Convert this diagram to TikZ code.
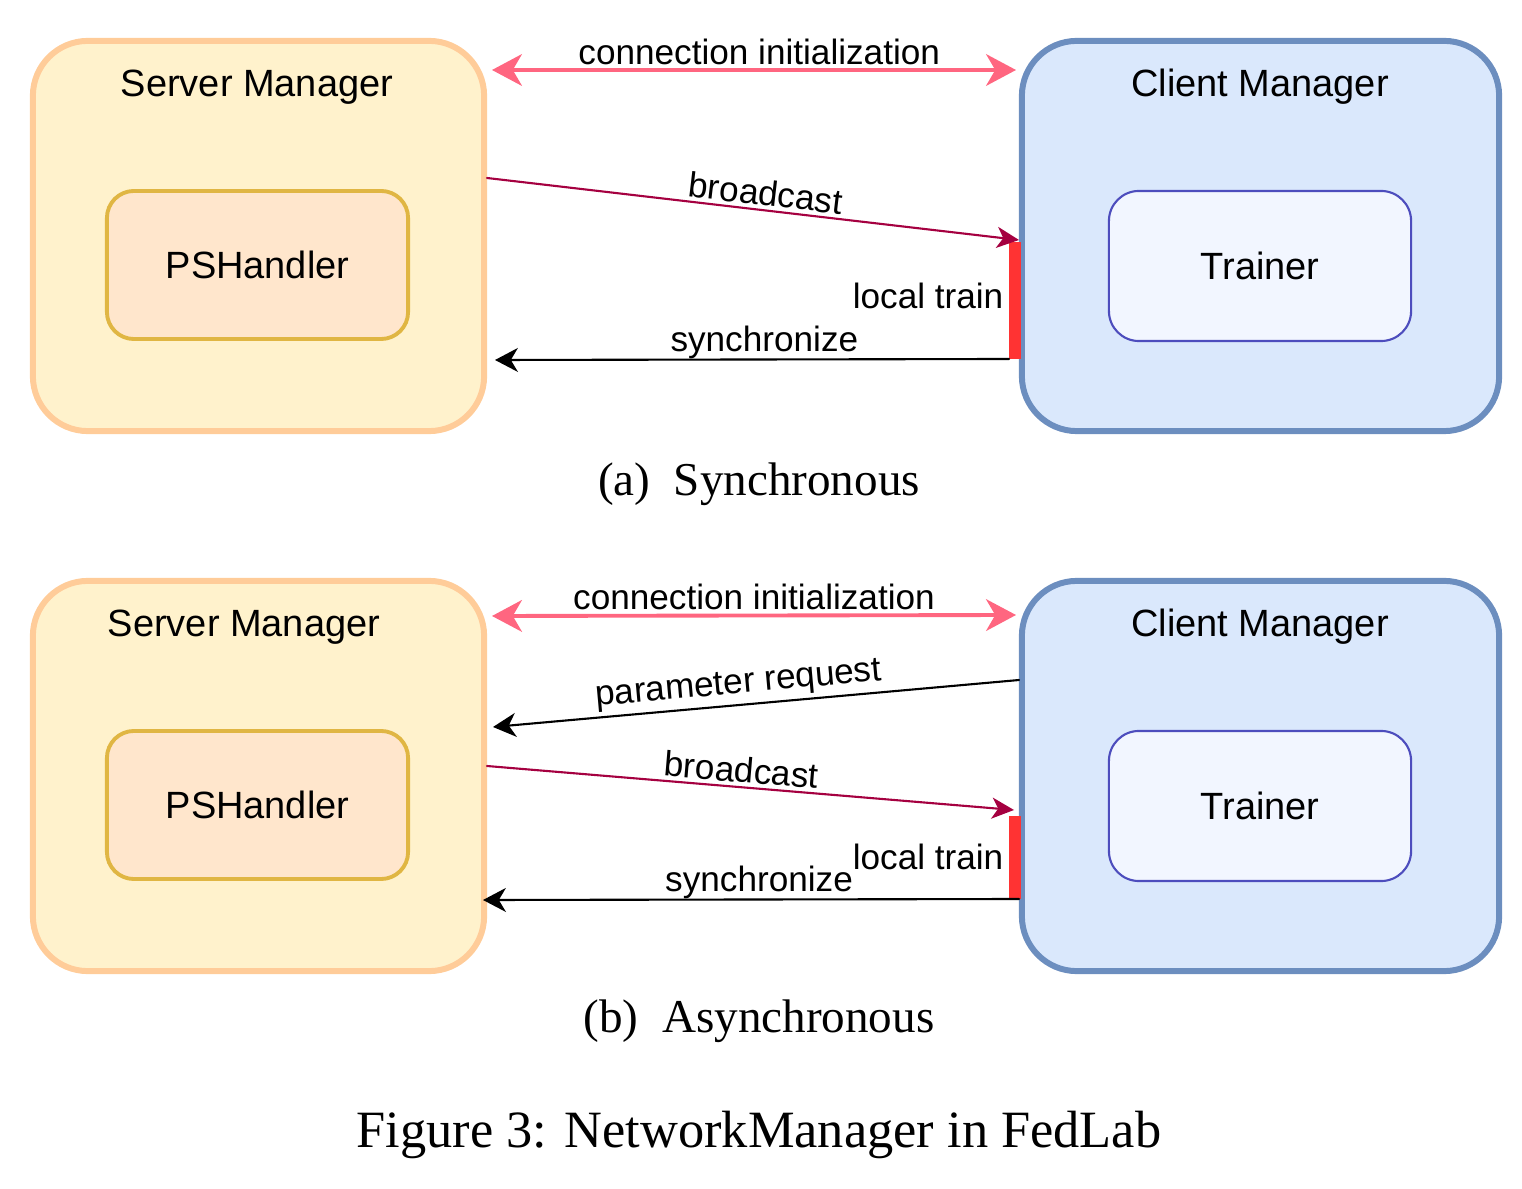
\documentclass[tikz,border=0pt]{standalone}
\usepackage{fontspec}
\setmainfont{Liberation Sans}
\newfontfamily\capfont{Liberation Serif}
\usetikzlibrary{arrows.meta}

\definecolor{srvline}{HTML}{FFCC99}
\definecolor{srvfill}{HTML}{FFF2CC}
\definecolor{pshline}{HTML}{E0B643}
\definecolor{pshfill}{HTML}{FFE6CC}
\definecolor{cltline}{HTML}{6C8EBF}
\definecolor{cltfill}{HTML}{DAE8FC}
\definecolor{trnline}{HTML}{4D4DBD}
\definecolor{trnfill}{HTML}{F2F6FF}
\definecolor{initpink}{HTML}{FF6680}
\definecolor{bcred}{HTML}{A50040}
\definecolor{trainred}{HTML}{FF3333}

\tikzset{
	srvbox/.style={draw=srvline,fill=srvfill,line width=1.7pt,rounded corners=0.55cm,
		minimum width=4.51cm,minimum height=3.9cm},
	cltbox/.style={draw=cltline,fill=cltfill,line width=1.7pt,rounded corners=0.55cm,
		minimum width=4.77cm,minimum height=3.9cm},
	pshbox/.style={draw=pshline,fill=pshfill,line width=1.1pt,rounded corners=0.27cm,
		minimum width=3.01cm,minimum height=1.48cm},
	trnbox/.style={draw=trnline,fill=trnfill,line width=0.6pt,rounded corners=0.3cm,
		minimum width=3.02cm,minimum height=1.5cm},
	trainbar/.style={fill=trainred,inner sep=0pt,minimum width=0.12cm},
	initline/.style={draw=initpink,line width=1.1pt,
		arrows={Stealth[length=8.5pt,width=9pt,inset=2.6pt]-Stealth[length=8.5pt,width=9pt,inset=2.6pt]}},
	bcline/.style={draw=bcred,line width=0.6pt,-{Stealth[length=6.3pt,width=6pt,inset=1.8pt]}},
	syline/.style={draw=black,line width=0.6pt,-{Stealth[length=6.5pt,width=6.8pt,inset=2pt]}},
	lbl/.style={inner sep=1pt,font=\fontsize{10}{12}\selectfont},
	subcap/.style={font=\capfont\fontsize{13.4}{16}\selectfont},
}

\begin{document}
\begin{tikzpicture}[x=0.01cm,y=-0.01cm,line cap=round,line join=round,font=\fontsize{10.8}{13}\selectfont]
	\useasboundingbox (0,0) rectangle (1522,1189);
	% (a) synchronous
	\node[srvbox] (srvA) at (258.5,236) {};
	\node[cltbox] (cltA) at (1260.5,236) {};
	\node (srvAt) at (257,87) {Server Manager};
	\node (cltAt) at (1260,87) {Client Manager};
	\node[pshbox] (pshA) at (257.5,265) {PSHandler};
	\node[trnbox] (trnA) at (1260,266) {Trainer};
	\node[trainbar,minimum height=1.17cm] (barA) at (1015,300.5) {};
	\coordinate (ciA1) at (492,70);
	\coordinate (ciA2) at (1016,70);
	\coordinate (bcA1) at (487,178);
	\coordinate (bcA2) at (1019,240);
	\coordinate (syA1) at (1009,359);
	\coordinate (syA2) at (495,360);
	\draw[initline] (ciA1) -- node[lbl,above,pos=0.51] {connection initialization} (ciA2);
	\draw[bcline] (bcA1) -- node[lbl,above,sloped,pos=0.52] {broadcast} (bcA2);
	\node[lbl,anchor=east,inner sep=0pt] (ltA) at (1004,296) {local train};
	\draw[syline] (syA1) -- node[lbl,above,pos=0.476,inner sep=0pt] {synchronize} (syA2);
	\node[subcap] (capA) at (759,484) {(a)\enspace Synchronous};
	% (b) asynchronous
	\node[srvbox] (srvB) at (258.5,776) {};
	\node[cltbox] (cltB) at (1260.5,776) {};
	\node (srvBt) at (244,627) {Server Manager};
	\node (cltBt) at (1260,627) {Client Manager};
	\node[pshbox] (pshB) at (257.5,805) {PSHandler};
	\node[trnbox] (trnB) at (1260,806) {Trainer};
	\node[trainbar,minimum height=0.83cm] (barB) at (1015,857.5) {};
	\coordinate (ciB1) at (492,616);
	\coordinate (ciB2) at (1016,615);
	\coordinate (prB1) at (1019,680);
	\coordinate (prB2) at (493,727);
	\coordinate (bcB1) at (487,766);
	\coordinate (bcB2) at (1014,810);
	\coordinate (syB1) at (1019,899);
	\coordinate (syB2) at (483,900);
	\draw[initline] (ciB1) -- node[lbl,above] {connection initialization} (ciB2);
	\draw[syline] (prB1) -- node[lbl,above,sloped,pos=0.53] {parameter request} (prB2);
	\draw[bcline] (bcB1) -- node[lbl,above,sloped,pos=0.48] {broadcast} (bcB2);
	\node[lbl,anchor=east,inner sep=0pt] (ltB) at (1004,857) {local train};
	\draw[syline] (syB1) -- node[lbl,above,pos=0.485,inner sep=0pt] {synchronize} (syB2);
	\node[subcap] (capB) at (759,1021) {(b)\enspace Asynchronous};
	% figure caption
	\node[font=\capfont\fontsize{14.9}{18}\selectfont] (figcap) at (759,1135) {Figure 3: NetworkManager in FedLab};
\end{tikzpicture}
\end{document}
